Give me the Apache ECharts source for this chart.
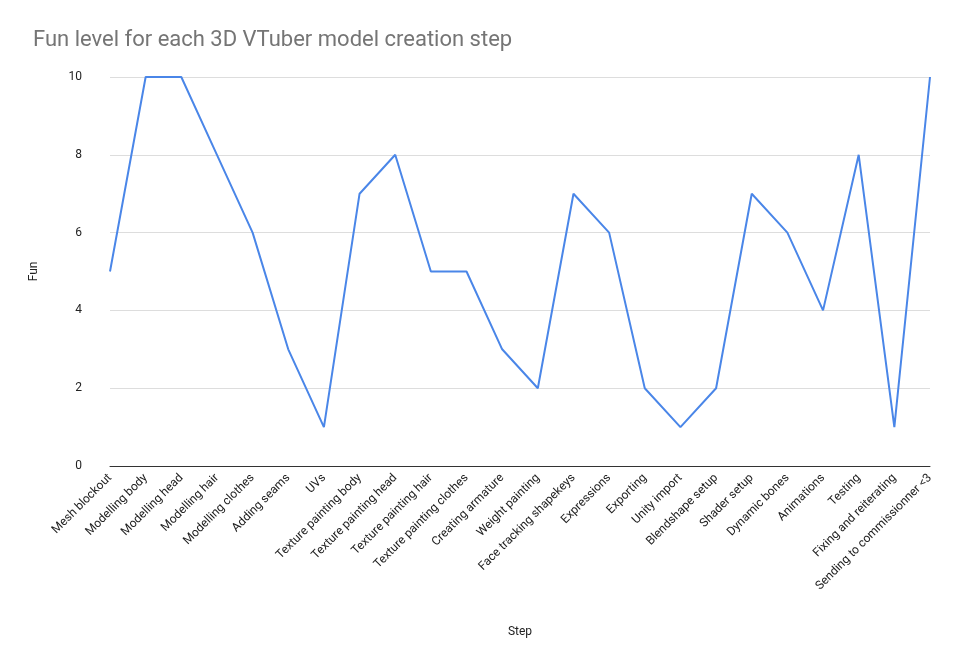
<!DOCTYPE html>
<html><head><meta charset="utf-8">
<script src="https://cdn.jsdelivr.net/npm/echarts@6/dist/echarts.min.js"></script>
<style>html,body{margin:0;background:#fff}#c{width:970px;height:663px}</style>
</head><body><div id="c"></div>
<script>
const steps = ['Mesh blockout','Modelling body','Modelling head','Modelling hair','Modelling clothes','Adding seams','UVs','Texture painting body','Texture painting head','Texture painting hair','Texture painting clothes','Creating armature','Weight painting','Face tracking shapekeys','Expressions','Exporting','Unity import','Blendshape setup','Shader setup','Dynamic bones','Animations','Testing','Fixing and reiterating','Sending to commissionner <3'];
const fun = [5,10,10,8,6,3,1,7,8,5,5,3,2,7,6,2,1,2,7,6,4,8,1,10];

let chart = echarts.init(document.getElementById('c'));
chart.setOption({
    title: {
        text: 'Fun level for each 3D VTuber model creation step',
        left: 28, top: 24,
        textStyle: {color: '#757575', fontSize: 22, fontWeight: 'normal', fontFamily: 'Roboto'}
    },
    grid: {left: 110, right: 40, top: 77, bottom: 197},
    xAxis: {
        type: 'category', data: steps, boundaryGap: false,
        name: 'Step', nameLocation: 'middle', nameGap: 160,
        nameTextStyle: {color: '#222', fontSize: 12, fontFamily: 'Roboto'},
        axisLine: {lineStyle: {color: '#333'}},
        axisTick: {show: false},
        axisLabel: {rotate: 45, interval: 0, color: '#222', fontSize: 12, fontFamily: 'Roboto', margin: 10}
    },
    yAxis: {
        type: 'value', min: 0, max: 10, interval: 2,
        name: 'Fun', nameLocation: 'middle', nameGap: 70,
        nameTextStyle: {color: '#222', fontSize: 12, fontFamily: 'Roboto'},
        axisLabel: {color: '#222', fontSize: 12, fontFamily: 'Roboto', margin: 28},
        splitLine: {lineStyle: {color: '#ddd'}}
    },
    series: [{
        type: 'line', data: fun, symbol: 'none',
        lineStyle: {color: '#4a86e8', width: 2}
    }]
});
</script></body></html>
